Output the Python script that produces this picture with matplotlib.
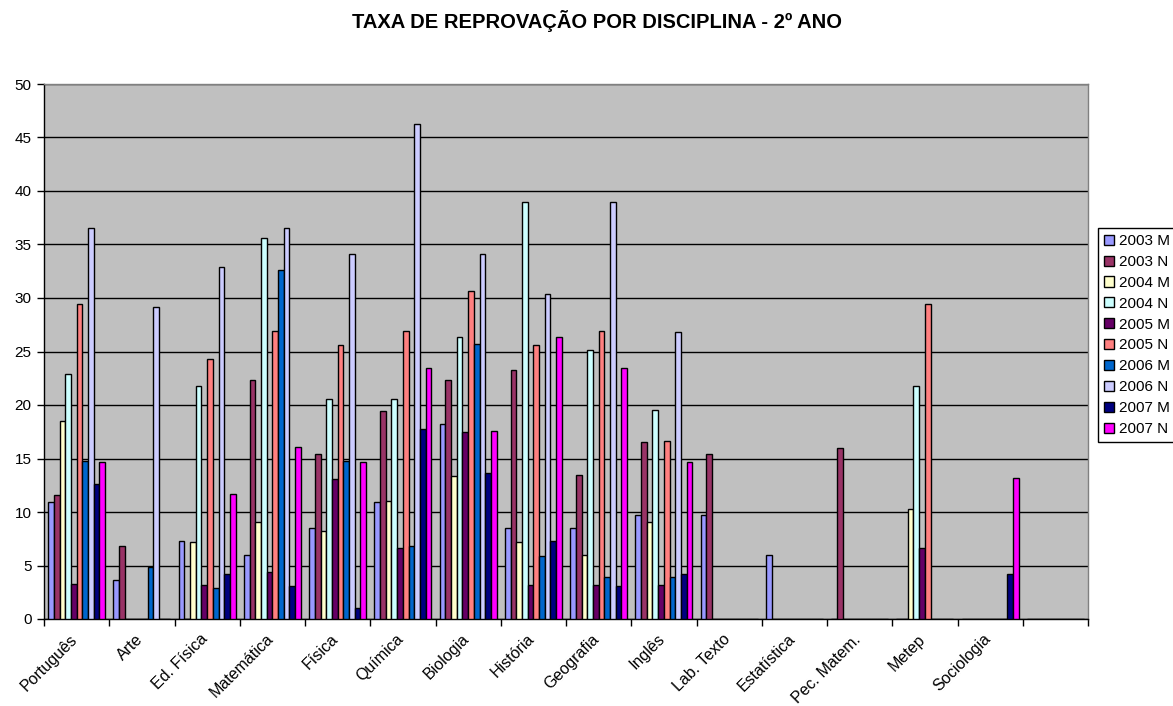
import matplotlib
matplotlib.use("Agg")
import matplotlib.pyplot as plt
import matplotlib.transforms as mtransforms
import numpy as np

plt.rcParams['font.family'] = ['Liberation Sans', 'DejaVu Sans']

title = "TAXA DE REPROVAÇÃO POR DISCIPLINA - 2º ANO"

categories = ["Português", "Arte", "Ed. Física", "Matemática", "Física", "Química",
              "Biologia", "História", "Geografia", "Inglês", "Lab. Texto", "Estatística",
              "Pec. Matem.", "Metep", "Sociologia", ""]

series_names = ["2003 M", "2003 N", "2004 M", "2004 N", "2005 M",
                "2005 N", "2006 M", "2006 N", "2007 M", "2007 N"]

s2003_m = [10.9, 3.6, 7.3, 6.0, 8.5, 10.9, 18.2, 8.5, 8.5, 9.7, 9.7, 6.0, 0, 0, 0, 0]
s2003_n = [11.6, 6.8, 0, 22.3, 15.4, 19.4, 22.3, 23.3, 13.5, 16.5, 15.4, 0, 16.0, 0, 0, 0]
s2004_m = [18.5, 0, 7.2, 9.1, 8.2, 11.0, 13.4, 7.2, 6.0, 9.1, 0, 0, 0, 10.3, 0, 0]
s2004_n = [22.9, 0, 21.8, 35.6, 20.6, 20.6, 26.4, 39.0, 25.1, 19.5, 0, 0, 0, 21.8, 0, 0]
s2005_m = [3.3, 0, 3.2, 4.4, 13.1, 6.6, 17.5, 3.2, 3.2, 3.2, 0, 0, 0, 6.6, 0, 0]
s2005_n = [29.4, 0, 24.3, 26.9, 25.6, 26.9, 30.7, 25.6, 26.9, 16.6, 0, 0, 0, 29.4, 0, 0]
s2006_m = [14.8, 4.9, 2.9, 32.6, 14.8, 6.8, 25.7, 5.9, 3.9, 3.9, 0, 0, 0, 0, 0, 0]
s2006_n = [36.5, 29.2, 32.9, 36.5, 34.1, 46.3, 34.1, 30.4, 39.0, 26.8, 0, 0, 0, 0, 0, 0]
s2007_m = [12.6, 0, 4.2, 3.1, 1.0, 17.8, 13.6, 7.3, 3.1, 4.2, 0, 0, 0, 0, 4.2, 0]
s2007_n = [14.7, 0, 11.7, 16.1, 14.7, 23.5, 17.6, 26.4, 23.5, 14.7, 0, 0, 0, 0, 13.2, 0]

series_values = [s2003_m, s2003_n, s2004_m, s2004_n, s2005_m,
                 s2005_n, s2006_m, s2006_n, s2007_m, s2007_n]

colors = ["#9999FF", "#993366", "#FFFFCC", "#CCFFFF", "#660066",
          "#FF8080", "#0066CC", "#CCCCFF", "#000080", "#FF00FF"]

W, H = 1173, 706
fig = plt.figure(figsize=(W / 100, H / 100), dpi=100)
ax = fig.add_axes([44 / W, 1 - 619 / H, (1088 - 44) / W, (619 - 84) / H])
ax.set_facecolor("#C0C0C0")

x = np.arange(len(categories))
bw = 0.0873
start = -5 * bw
for i, (name, vals, c) in enumerate(zip(series_names, series_values, colors)):
    ax.bar(x + start + i * bw, vals, width=bw, align="edge", color=c,
           edgecolor="black", linewidth=1.0, label=name, zorder=3)

ax.set_xlim(-0.5, len(categories) - 0.5)
ax.set_ylim(0, 50)
ax.set_yticks(np.arange(0, 51, 5))
ax.yaxis.grid(True, color="black", linewidth=1.0, zorder=1)
ax.set_axisbelow(True)

ax.set_xticks(x)
ax.set_xticklabels(categories, rotation=45, ha="right", va="top",
                   rotation_mode="anchor", fontsize=11.5)
ax.tick_params(axis="x", which="major", length=0, pad=9)
shift = mtransforms.ScaledTranslation(-7 / 100, 0, fig.dpi_scale_trans)
for lbl in ax.get_xticklabels():
    lbl.set_transform(lbl.get_transform() + shift)
ax.set_xticks(np.arange(-0.5, len(categories), 1), minor=True)
ax.tick_params(axis="x", which="minor", length=5, width=1, color="black", direction="out")
ax.tick_params(axis="y", length=5, width=1, color="black", direction="out", labelsize=11, pad=4)

for side in ("left", "bottom"):
    ax.spines[side].set_color("black")
    ax.spines[side].set_linewidth(1.0)
for side in ("top", "right"):
    ax.spines[side].set_color("#808080")
    ax.spines[side].set_linewidth(1.0)

fig.text(597 / W, 1 - 21 / H, title, ha="center", va="center",
         fontsize=14.5, fontweight="bold")

leg = fig.legend(loc="upper left", bbox_to_anchor=(1098 / W, 1 - 228 / H),
                 fontsize=11, frameon=True, fancybox=False, framealpha=1,
                 edgecolor="black", handlelength=0.65, handleheight=0.65,
                 handletextpad=0.3, labelspacing=0.45, borderpad=0.4,
                 borderaxespad=0)
leg.get_frame().set_linewidth(1.0)

fig.savefig("out.png", dpi=100)
